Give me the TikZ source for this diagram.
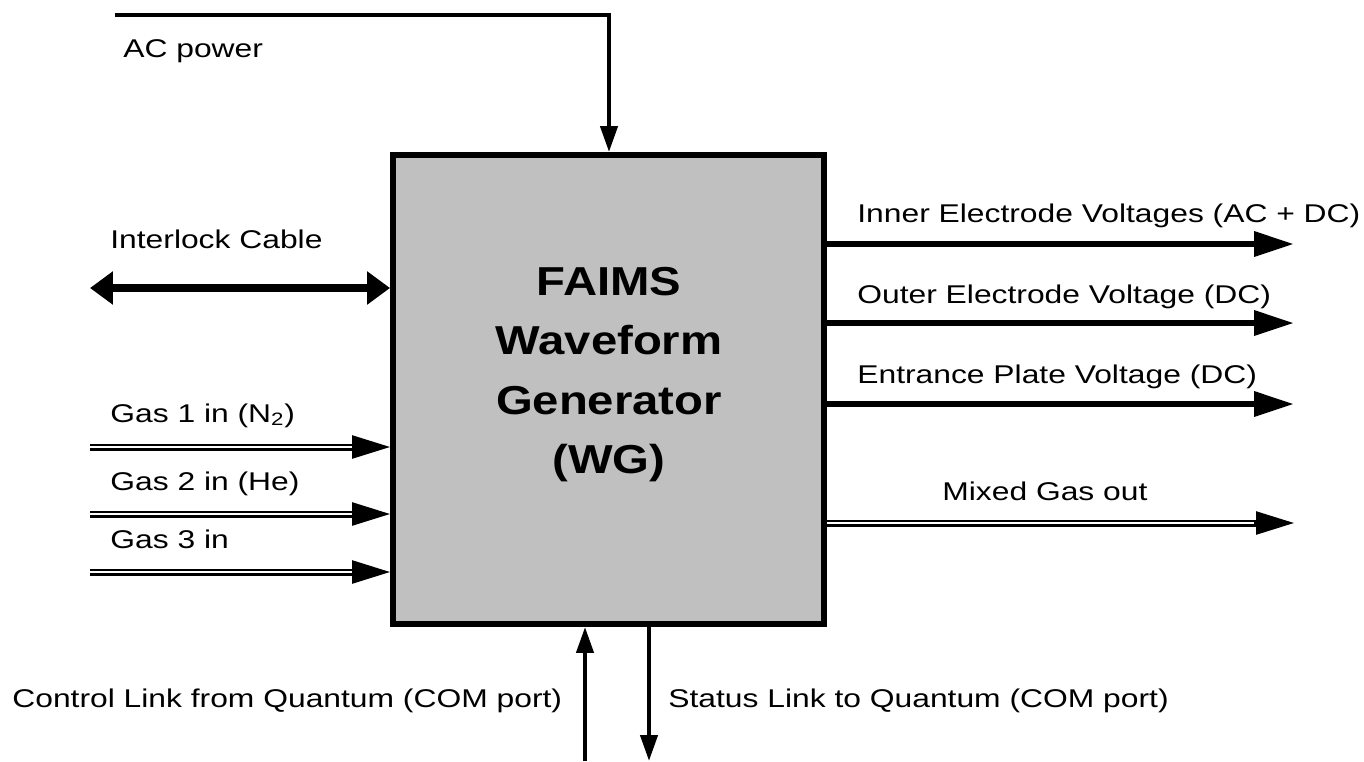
\documentclass[tikz,border=0pt]{standalone}
\usepackage{fontspec}
\setmainfont{Liberation Sans}[FakeStretch=1.24]
\newfontfamily\wgfont{Liberation Sans}[FakeStretch=1.17]
\usetikzlibrary{arrows.meta}
\definecolor{wggray}{RGB}{192,192,192}

\tikzset{
    lbl/.style={anchor=base west, inner sep=0pt, font=\fontsize{14.6}{17}\selectfont},
    wgbox/.style={draw, line width=0.12cm, fill=wggray, minimum width=8.62cm, minimum height=9.38cm},
    wgtitle/.style={inner sep=0pt, align=center, font=\wgfont\bfseries\fontsize{23}{33.8}\selectfont},
    thinsig/.style={line width=0.085cm, -{Triangle[length=0.52cm,width=0.34cm]}},
    ilsig/.style={line width=0.16cm, {Triangle[length=0.46cm,width=0.64cm]}-{Triangle[length=0.46cm,width=0.64cm]}},
    sig/.style={line width=0.13cm, -{Triangle[length=0.8cm,width=0.48cm]}},
    gasline/.style={double, line width=0.05cm, double distance=0.04cm},
    gastip/.style={line width=0.05cm, -{Triangle[length=0.76cm,width=0.46cm]}}
}

\begin{document}
\begin{tikzpicture}[x=0.02cm, y=-0.02cm]
    \useasboundingbox (0,0) rectangle (1364,761);

    \node[wgbox] (wg) at (608.5,389.5) {};
    \node[wgtitle, anchor=north] (wgname) at (609,267) {FAIMS\\Waveform\\Generator\\(WG)};

    % power from the top
    \coordinate (acin) at (115,15);
    \coordinate (acbend) at (609,15);
    \draw[thinsig] (acin) -- (acbend) -- (acbend |- wg.north);
    \node[lbl] (aclbl) at (123,57) {AC power};

    % left side
    \coordinate (ilend) at (90,288);
    \draw[ilsig] (ilend) -- (ilend -| wg.west);
    \node[lbl] (illbl) at (110,248) {Interlock Cable};

    \coordinate (gasa) at (90,447);
    \coordinate (gasb) at (90,514);
    \coordinate (gasc) at (90,572);
    \draw[gasline] (gasa) -- ([xshift=-0.72cm]gasa -| wg.west);
    \draw[gastip] ([xshift=-0.76cm]gasa -| wg.west) -- (gasa -| wg.west);
    \draw[gasline] (gasb) -- ([xshift=-0.72cm]gasb -| wg.west);
    \draw[gastip] ([xshift=-0.76cm]gasb -| wg.west) -- (gasb -| wg.west);
    \draw[gasline] (gasc) -- ([xshift=-0.72cm]gasc -| wg.west);
    \draw[gastip] ([xshift=-0.76cm]gasc -| wg.west) -- (gasc -| wg.west);
    \node[lbl] (gasalbl) at (110,422) {Gas 1 in (N\textsubscript{2})};
    \node[lbl] (gasblbl) at (110,490) {Gas 2 in (He)};
    \node[lbl] (gasclbl) at (110,548) {Gas 3 in};

    % right side
    \coordinate (inner) at (1294,244);
    \coordinate (outer) at (1294,323);
    \coordinate (plate) at (1294,404);
    \coordinate (mixed) at (1294,523);
    \draw[sig] (inner -| wg.east) -- (inner);
    \draw[sig] (outer -| wg.east) -- (outer);
    \draw[sig] (plate -| wg.east) -- (plate);
    \draw[gasline] (mixed -| wg.east) -- ([xshift=-0.76cm]mixed);
    \draw[gastip] ([xshift=-0.8cm]mixed) -- (mixed);
    \node[lbl] (innerlbl) at (857,222) {Inner Electrode Voltages (AC + DC)};
    \node[lbl] (outerlbl) at (857,303) {Outer Electrode Voltage (DC)};
    \node[lbl] (platelbl) at (857,383) {Entrance Plate Voltage (DC)};
    \node[lbl] (mixedlbl) at (942,500) {Mixed Gas out};

    % COM links
    \coordinate (ctrl) at (585,761);
    \coordinate (stat) at (649,761);
    \draw[thinsig] (ctrl) -- (ctrl |- wg.south);
    \draw[thinsig] (stat |- wg.south) -- (stat);
    \node[lbl] (ctrllbl) at (12,707) {Control Link from Quantum (COM port)};
    \node[lbl] (statlbl) at (668,707) {Status Link to Quantum (COM port)};
\end{tikzpicture}
\end{document}
